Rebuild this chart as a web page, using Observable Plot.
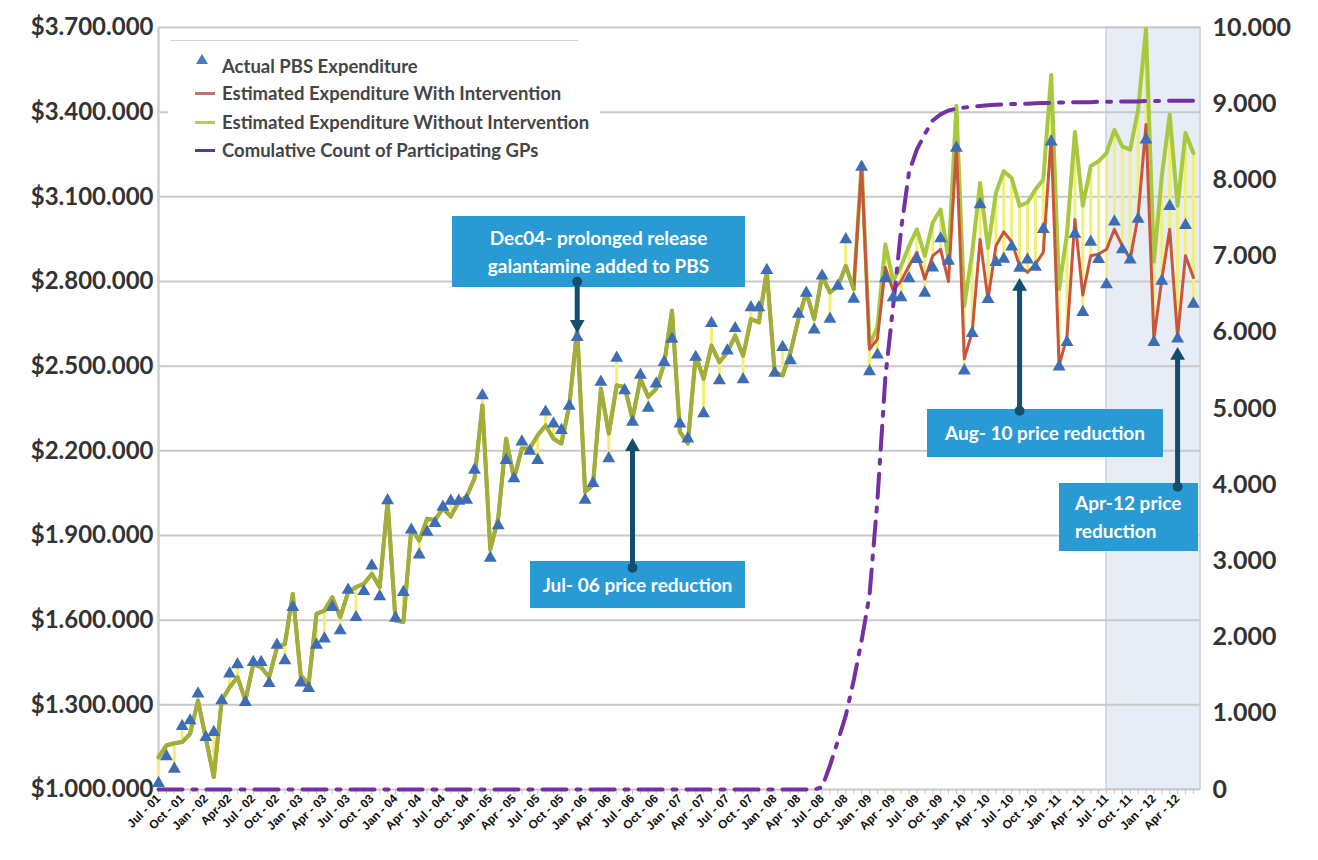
<!DOCTYPE html>
<html><head><meta charset="utf-8">
<script src="https://cdn.jsdelivr.net/npm/d3@7"></script>
<script src="https://cdn.jsdelivr.net/npm/@observablehq/plot@0.6"></script>
<style>
body{margin:0;background:#fff;}
#wrap{position:relative;width:1318px;height:860px;overflow:hidden;background:#fff;font-family:Lato,"Open Sans",sans-serif;}
#wrap svg{position:absolute;left:0;top:0;}
#frame{position:absolute;left:8px;top:4px;width:1296px;height:900px;border:2px solid #e6e6e6;pointer-events:none;}
.note{position:absolute;background:#2a9ad5;color:#fff;font-weight:700;font-size:19px;line-height:28px;display:flex;align-items:center;justify-content:center;text-align:center;z-index:1;}
#legend{position:absolute;left:168px;top:40px;width:432px;height:125px;background:#fff;z-index:1;}
#legend .topline{position:absolute;left:2px;top:0;width:408px;border-top:1px solid #d4d4d4;}
#legend .row{position:absolute;left:27px;height:26px;display:flex;align-items:center;font-weight:700;font-size:18.5px;color:#454545;white-space:nowrap;}
#legend .sw{width:20px;margin-right:7px;display:flex;justify-content:center;align-items:center;}
</style></head>
<body><div id="wrap"><div id="frame"></div></div>
<script>
// Quarterly tick labels (Jul-01 .. Apr-12), one per 3 months
const tickLabels = ["Jul - 01","Oct - 01","Jan - 02","Apr-02","Jul - 02","Oct - 02","Jan - 03","Apr - 03","Jul - 03","Oct - 03",
  "Jan - 04","Apr - 04","Jul - 04","Oct - 04","Jan - 05","Apr - 05","Jul - 05","Oct - 05","Jan - 06","Apr - 06",
  "Jul - 06","Oct - 06","Jan - 07","Apr - 07","Jul - 07","Oct - 07","Jan - 08","Apr - 08","Jul - 08","Oct - 08",
  "Jan - 09","Apr - 09","Jul - 09","Oct - 09","Jan - 10","Apr - 10","Jul - 10","Oct - 10","Jan - 11","Apr - 11",
  "Jul - 11","Oct - 11","Jan - 12","Apr - 12"];

// Monthly values, $ thousands, Jul-01 .. Jun-12
const actual = [
  1022,1117,1073,1224,1244,1339,1185,1203,1315,1410,
  1443,1309,1451,1451,1376,1512,1457,1646,1378,1359,
  1512,1534,1646,1563,1707,1610,1702,1793,1684,2024,
  1608,1699,1920,1832,1912,1943,2001,2022,2022,2026,
  2132,2396,1820,1935,2167,2102,2232,2199,2167,2338,
  2296,2273,2359,2602,2026,2085,2444,2173,2529,2414,
  2302,2469,2352,2438,2514,2596,2296,2243,2532,2332,
  2652,2449,2555,2634,2453,2708,2708,2840,2476,2567,
  2520,2685,2759,2629,2820,2667,2784,2949,2738,3206,
  2481,2540,2811,2743,2743,2811,2879,2759,2849,2952,
  2873,3273,2484,2617,3073,2737,2868,2880,2923,2848,
  2877,2851,2985,3295,2498,2585,2968,2691,2940,2879,
  2789,3012,2913,2877,3021,3302,2585,2802,3067,2597,2999,2720];

const withoutInt = [
  1114,1156,1164,1168,1197,1315,1180,1044,1315,1362,
  1398,1315,1445,1433,1398,1503,1516,1693,1404,1374,
  1622,1634,1681,1610,1699,1717,1729,1764,1717,2020,
  1599,1593,1925,1882,1959,1955,1996,1967,2020,2038,
  2102,2361,1850,1961,2243,2102,2208,2208,2255,2290,
  2243,2226,2361,2632,2055,2079,2420,2261,2432,2426,
  2314,2455,2391,2420,2508,2696,2267,2226,2537,2455,
  2573,2514,2549,2608,2537,2667,2655,2837,2479,2467,
  2549,2667,2761,2667,2820,2761,2784,2855,2773,3220,
  2575,2638,2932,2802,2855,2926,2985,2891,3008,3055,
  2880,3423,2714,2903,3149,2919,3114,3191,3167,3068,
  3080,3126,3161,3532,2773,2970,3330,3068,3209,3226,
  3255,3337,3279,3267,3408,3695,2870,3173,3391,3068,3326,3255];

const withInt = [
  1114,1156,1164,1168,1197,1315,1180,1044,1315,1362,
  1398,1315,1445,1433,1398,1503,1516,1693,1404,1374,
  1622,1634,1681,1610,1699,1717,1729,1764,1717,2020,
  1599,1593,1925,1882,1959,1955,1996,1967,2020,2038,
  2102,2361,1850,1961,2243,2102,2208,2208,2255,2290,
  2243,2226,2361,2632,2055,2079,2420,2261,2432,2426,
  2314,2455,2391,2420,2508,2696,2267,2226,2537,2455,
  2573,2514,2549,2608,2537,2667,2655,2837,2479,2467,
  2549,2667,2761,2667,2820,2761,2784,2855,2773,3210,
  2560,2596,2850,2767,2802,2855,2903,2808,2891,2914,
  2800,3280,2526,2620,2949,2737,2926,2976,2941,2856,
  2832,2861,2903,3314,2502,2605,3020,2752,2891,2897,
  2914,2985,2926,2879,3032,3356,2597,2808,2985,2605,2891,2814];

// Cumulative count of participating GPs (right axis)
const gpCount = [
  0,0,0,0,0,0,0,0,0,0,0,0,
  0,0,0,0,0,0,0,0,0,0,0,0,
  0,0,0,0,0,0,0,0,0,0,0,0,
  0,0,0,0,0,0,0,0,0,0,0,0,
  0,0,0,0,0,0,0,0,0,0,0,0,
  0,0,0,0,0,0,0,0,0,0,0,0,
  0,0,0,0,0,0,0,0,0,0,0,0,
  30,315,640,970,1430,1955,2545,3790,5400,6350,7350,8100,
  8400,8600,8780,8860,8910,8935,8950,8960,8970,8980,8985,8990,
  8995,9000,9000,9005,9010,9010,9015,9015,9020,9020,9020,9025,
  9025,9025,9030,9030,9030,9035,9035,9035,9040,9040,9040,9040];

const leftTicks = [1000,1300,1600,1900,2200,2500,2800,3100,3400,3700];
const rightTicks = [0,1000,2000,3000,4000,5000,6000,7000,8000,9000,10000];

const annotationText = ["Dec04- prolonged release<br>galantamine added to PBS","Jul- 06 price reduction","Aug- 10 price reduction","Apr-12 price<br>reduction"];
const annotationMonth = ["Dec - 05","Jul - 06","Aug - 10","Apr - 12"];
const annotationFrom = [2799,1786,2342,2073];
const annotationTo = [2648,2215,2782,2538];

// ---- build ----
const monthNames = ["Jul","Aug","Sep","Oct","Nov","Dec","Jan","Feb","Mar","Apr","May","Jun"];
const n = actual.length;
const monthLabel = i => monthNames[i % 12] + " - " + String(1 + Math.floor((i + 6) / 12)).padStart(2, "0");
const gpToK = (leftTicks[leftTicks.length-1] - leftTicks[0]) / rightTicks[rightTicks.length-1];
const rows = actual.map((a, i) => {
  const v = [a, withoutInt[i], withInt[i]];
  return {i, actual: a, without: withoutInt[i], with: withInt[i],
          gpY: leftTicks[0] + gpCount[i] * gpToK, lo: d3.min(v), hi: d3.max(v)};
});
const firstDiff = rows.findIndex(d => d.with !== d.without);
const shared = rows.slice(0, firstDiff);
const quarterIdx = tickLabels.map((_, k) => k * 3);
const shadeStart = tickLabels.indexOf("Jul - 11") * 3;
const xMax = n - 0.1;
const arrows = annotationMonth.map((m, k) => ({
  i: d3.range(n).find(i => monthLabel(i) === m), from: annotationFrom[k], to: annotationTo[k]}));

const dotted = s => d3.format(",")(s).replace(/,/g, ".");
const common = {width: 1318, height: 860, marginLeft: 158, marginRight: 118, marginTop: 27, marginBottom: 71};
const navy = "#144e6f";

const chart = Plot.plot({
  ...common,
  style: {background: "white", fontFamily: "Lato, sans-serif"},
  x: {domain: [0, xMax], label: null},
  y: {domain: [leftTicks[0], leftTicks[leftTicks.length-1]], label: null},
  marks: [
    Plot.rect([0], {x1: shadeStart, x2: xMax, y1: leftTicks[0], y2: leftTicks[leftTicks.length-1], fill: "#e7ecf5", stroke: "#c9d1de", strokeWidth: 1.5}),
    Plot.ruleY(leftTicks, {stroke: "#c9c9c9", strokeWidth: 2}),
    Plot.ruleX([0], {stroke: "#cfcfcf", strokeWidth: 2.5}),
    Plot.axisX(d3.range(n), {tickSize: 5, tickFormat: () => "", color: "#c4c4c4"}),
    Plot.ruleX(rows, {x: "i", y1: "lo", y2: "hi", stroke: "#f2ef74", strokeWidth: 3}),
    Plot.line(rows, {x: "i", y: "without", stroke: "#a6c93f", strokeWidth: 4, strokeLinejoin: "round"}),
    Plot.line(rows, {x: "i", y: "with", stroke: "#c8563c", strokeWidth: 3, strokeLinejoin: "round"}),
    Plot.line(shared, {x: "i", y: "with", stroke: "#a2ad3c", strokeWidth: 4, strokeLinejoin: "round"}),
    Plot.line(rows, {x: "i", y: "gpY", stroke: "#7331a3", strokeWidth: 4, strokeDasharray: "24,10,4,10"}),
    Plot.dot(rows, {x: "i", y: "actual", symbol: "triangle", r: 4.8, fill: "#3e6db5", stroke: "none"}),
    Plot.axisY(leftTicks, {anchor: "left", tickSize: 0, tickPadding: 5, tickFormat: d => "$" + dotted(d * 1000),
      fontSize: 24, fontWeight: "bold", color: "#333"}),
    Plot.axisY(rightTicks.map(g => leftTicks[0] + g * gpToK), {anchor: "right", tickSize: 0, tickPadding: 12,
      tickFormat: d => dotted(Math.round((d - leftTicks[0]) / gpToK)), fontSize: 25, fontWeight: "bold", color: "#333"}),
    Plot.axisX(quarterIdx, {tickSize: 0, tickPadding: 7, tickRotate: -45, tickFormat: i => tickLabels[i / 3],
      fontSize: 12, fontWeight: "bold", fontFamily: "Liberation Sans, Arial, sans-serif", color: "#111"})
  ]
});

const overlay = Plot.plot({
  ...common,
  style: {background: "transparent"},
  x: {domain: [0, xMax], axis: null},
  y: {domain: [leftTicks[0], leftTicks[leftTicks.length-1]], axis: null},
  marks: [
    Plot.ruleX(arrows, {x: "i", y1: "from", y2: "to", stroke: navy, strokeWidth: 5}),
    Plot.dot(arrows, {x: "i", y: "to", symbol: "triangle", r: 5.5, fill: navy, stroke: "none",
      rotate: d => d.to > d.from ? 0 : 180}),
    Plot.dot(arrows, {x: "i", y: "from", r: 5, fill: navy})
  ]
});

const wrap = document.getElementById("wrap");
wrap.appendChild(chart);
overlay.style.zIndex = 2;
overlay.style.pointerEvents = "none";

// annotation boxes (layout)
const boxLayout = [
  {left: 452, top: 216, width: 293, height: 71},
  {left: 530, top: 561, width: 215, height: 47},
  {left: 927, top: 409, width: 236, height: 48},
  {left: 1059, top: 483, width: 139, height: 68, align: "left"}
];
annotationText.forEach((t, k) => {
  const b = boxLayout[k];
  const d = document.createElement("div");
  d.className = "note";
  Object.assign(d.style, {left: b.left + "px", top: b.top + "px", width: b.width + "px", height: b.height + "px"});
  if (b.align === "left") { d.style.justifyContent = "flex-start"; d.style.textAlign = "left"; d.style.paddingLeft = "16px"; d.style.boxSizing = "border-box"; }
  d.innerHTML = t;
  wrap.appendChild(d);
});

// legend
const legendItems = [
  {label: "Actual PBS Expenditure", kind: "tri", color: "#4a7bc0"},
  {label: "Estimated Expenditure With Intervention", kind: "line", color: "#c27068"},
  {label: "Estimated Expenditure Without Intervention", kind: "line", color: "#b5cc5c"},
  {label: "Comulative Count of Participating GPs", kind: "line", color: "#5a3b8c"}
];
const legendRowTop = [13, 40, 69, 97];
const lg = document.createElement("div");
lg.id = "legend";
lg.innerHTML = '<div class="topline"></div>' + legendItems.map((it, k) =>
  `<div class="row" style="top:${legendRowTop[k]}px"><span class="sw">${it.kind === "tri"
    ? `<svg width="14" height="12"><path d="M7 1 L13 11 L1 11 Z" fill="${it.color}"/></svg>`
    : `<span style="display:block;width:20px;height:3px;background:${it.color}"></span>`}</span>${it.label}</div>`).join("");
wrap.appendChild(lg);
wrap.appendChild(overlay);
</script>
</body></html>
